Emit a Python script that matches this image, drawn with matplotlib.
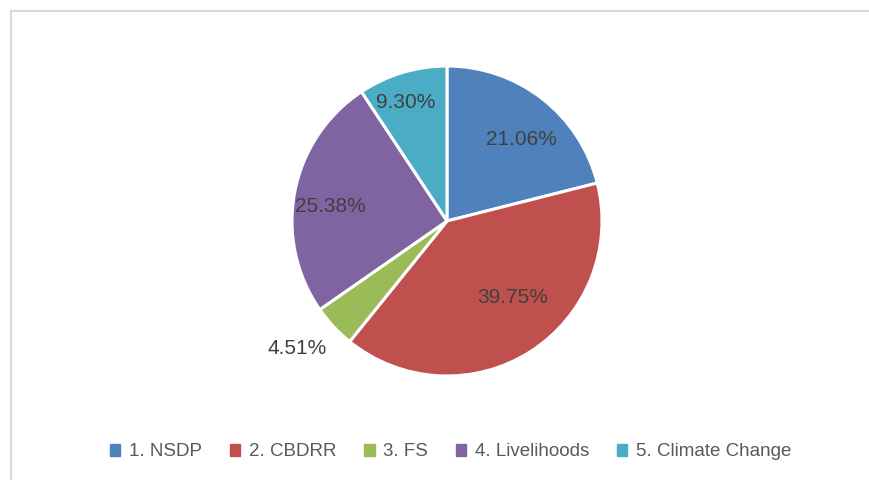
import numpy as np
import matplotlib
matplotlib.use('Agg')
import matplotlib.pyplot as plt
from matplotlib.patches import Rectangle

categories = ['1. NSDP', '2. CBDRR', '3. FS', '4. Livelihoods', '5. Climate Change']
shares = [21.06, 39.75, 4.51, 25.38, 9.30]
colors = ['#4F81BD', '#C0504D', '#9BBB59', '#8064A2', '#4BACC6']

# label placement (angle in degrees, distance in radii) - excel "best fit"
label_ang = [47.6, -49.0, -139.5, 173.0, 109.4]
label_dist = [0.71, 0.65, 1.27, 0.76, 0.81]

plt.rcParams['font.family'] = ['Liberation Sans', 'DejaVu Sans']

fig = plt.figure(figsize=(8.7, 4.8), dpi=100)
W, H = 870, 480

# light grey chart frame
fig.patches.append(Rectangle((11 / W, -0.1), 1.2, 1 - 11 / H + 0.1, transform=fig.transFigure,
                             fill=False, edgecolor='#D9D9D9', linewidth=1.5))

cx, cy, r = 447, 221, 155
ax = fig.add_axes([(cx - r) / W, (H - cy - r) / H, 2 * r / W, 2 * r / H])
wedges, _ = ax.pie(shares, colors=colors, startangle=90, counterclock=False,
                   wedgeprops=dict(edgecolor='white', linewidth=2.2))
ax.set_xlim(-1, 1)
ax.set_ylim(-1, 1)
ax.set_aspect('equal')

for v, a, d in zip(shares, label_ang, label_dist):
    t = np.deg2rad(a)
    ax.text(d * np.cos(t), d * np.sin(t), f'{v:.2f}%', ha='center', va='center',
            fontsize=15, color='#404040')

handles = [Rectangle((0, 0), 1, 1, color=c) for c in colors]
fig.legend(handles, categories, loc='center', bbox_to_anchor=(0.518, 1 - 452 / H), ncol=5,
           frameon=False, fontsize=13.5, labelcolor='#595959', handlelength=0.55,
           handleheight=0.55, handletextpad=0.45, columnspacing=1.5)

fig.savefig('out.png', dpi=100)
